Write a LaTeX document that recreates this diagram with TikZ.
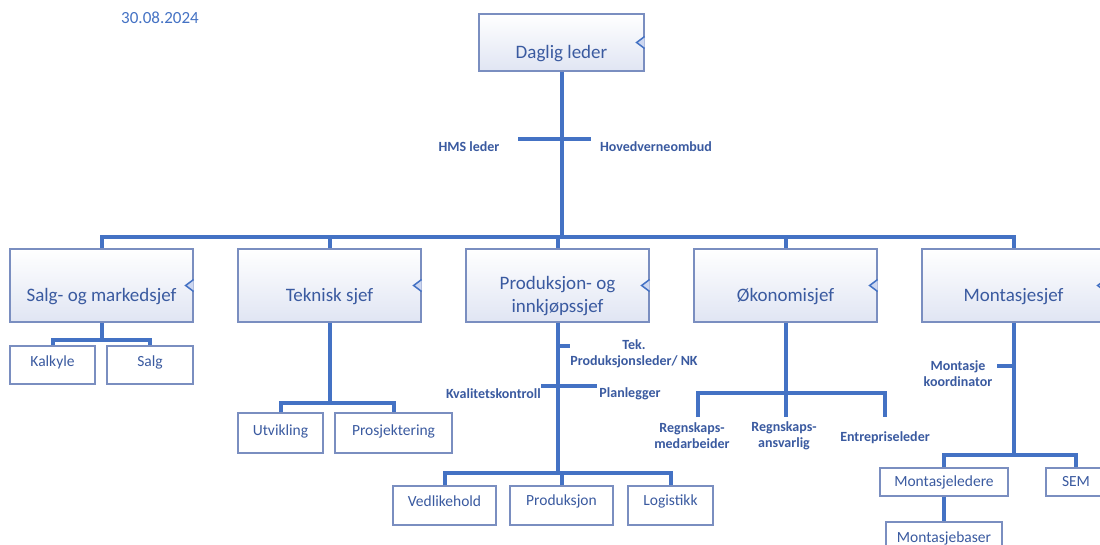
\documentclass[tikz,border=0pt]{standalone}
\usepackage{fontspec}
\setmainfont{Carlito}
\definecolor{lineblue}{RGB}{68,114,196}
\definecolor{textblue}{RGB}{58,90,160}
\definecolor{boxborder}{RGB}{122,142,192}
\definecolor{boxfill}{RGB}{224,229,243}
\definecolor{markfill}{RGB}{205,215,240}
\tikzset{
  conn/.style={draw=lineblue, line width=4pt, line join=miter},
  bigbox/.style={draw=boxborder, line width=1.2pt, top color=white, bottom color=boxfill, minimum width=183pt, minimum height=73pt, inner sep=0pt},
  smallbox/.style={draw=boxborder, line width=1.2pt, fill=white, inner sep=0pt},
  boxtext/.style={text=textblue, font=\fontsize{19}{23}\selectfont, align=center},
  lbl/.style={text=textblue, font=\bfseries\fontsize{14}{16}\selectfont, align=center, inner sep=0pt},
  subtext/.style={text=textblue, font=\fontsize{15.5}{18}\selectfont},
  marker/.style={draw=lineblue, fill=markfill, line width=1.5pt, line join=miter}
}
\newcommand{\boxmarker}[1]{\filldraw[marker] ([yshift=6pt]#1.east) -- ++(-8pt,-6pt) -- ++(8pt,-6pt);}
\begin{document}
\begin{tikzpicture}[x=1pt,y=-1pt]
\clip (0,0) rectangle (1100,545);
\fill[white] (0,0) rectangle (1100,545);

% date
\node[text=lineblue, font=\fontsize{17}{20}\selectfont] (date) at (160,18) {30.08.2024};

% top box
\node[bigbox, minimum width=165pt, minimum height=57pt, label={[boxtext, yshift=-11pt]center:Daglig leder}] (dl) at (561.5,42.5) {};
\boxmarker{dl}

% second level boxes
\node[bigbox, label={[boxtext, yshift=-11pt]center:Salg- og markedsjef}] (salgsjef) at (101.5,285.5) {};
\node[bigbox, label={[boxtext, yshift=-11pt]center:Teknisk sjef}] (tek) at (329.5,285.5) {};
\node[bigbox, label={[boxtext, yshift=-11pt]center:Produksjon- og\\innkjøpssjef}] (prod) at (557.5,285.5) {};
\node[bigbox, label={[boxtext, yshift=-11pt]center:Økonomisjef}] (oko) at (785.5,285.5) {};
\node[bigbox, label={[boxtext, yshift=-11pt]center:Montasjesjef}] (mont) at (1013.5,285.5) {};
\foreach \b in {salgsjef,tek,prod,oko,mont}{\boxmarker{\b}}

% main connectors
\coordinate (busy) at (0,237);
\draw[conn] (dl.south) -- (dl.south |- busy);
\draw[conn] (salgsjef.north) -- (salgsjef.north |- busy) -- (mont.north |- busy) -- (mont.north);
\foreach \b in {tek,prod,oko}{\draw[conn] (\b.north |- busy) -- (\b.north);}

% HMS cross
\coordinate (hmsa) at (518,139);
\coordinate (hmsb) at (591,139);
\draw[conn] (hmsa) -- (hmsb);
\node[lbl] (hms) at (469,147) {HMS leder};
\node[lbl] (hvo) at (656,147) {Hovedverneombud};

% Salg sub
\node[smallbox, minimum width=85pt, minimum height=38pt, label={[subtext, yshift=3pt]center:Kalkyle}] (kalk) at (52.5,365) {};
\node[smallbox, minimum width=86pt, minimum height=38pt, label={[subtext, yshift=3pt]center:Salg}] (salg) at (150,365) {};
\coordinate (sby) at (0,340);
\draw[conn] (salgsjef.south) -- (salgsjef.south |- sby);
\draw[conn] (kalk.north) -- (kalk.north |- sby) -- (salg.north |- sby) -- (salg.north);

% Teknisk sub
\node[smallbox, minimum width=85pt, minimum height=40pt, label={[subtext, yshift=2pt]center:Utvikling}] (utv) at (280.5,433) {};
\node[smallbox, minimum width=117pt, minimum height=40pt, label={[subtext, yshift=2pt]center:Prosjektering}] (pros) at (393.5,433) {};
\coordinate (tby) at (0,403);
\draw[conn] (tek.south) -- (tek.south |- tby);
\draw[conn] (utv.north) -- (utv.north |- tby) -- (pros.north |- tby) -- (pros.north);

% Produksjon sub
\node[smallbox, minimum width=103pt, minimum height=39pt, label={[subtext, yshift=4pt]center:Vedlikehold}] (ved) at (444.5,505.5) {};
\node[smallbox, minimum width=103pt, minimum height=39pt, label={[subtext, yshift=4pt]center:Produksjon}] (prd) at (561.5,505.5) {};
\node[smallbox, minimum width=85pt, minimum height=39pt, label={[subtext, yshift=4pt]center:Logistikk}] (log) at (670.5,505.5) {};
\coordinate (pby) at (0,473);
\draw[conn] (prod.south) -- (prod.south |- pby);
\draw[conn] (ved.north) -- (ved.north |- pby) -- (log.north |- pby) -- (log.north);
\draw[conn] (prd.north |- pby) -- (prd.north);
\coordinate (tekA) at (557.5,346);
\coordinate (tekB) at (570,346);
\draw[conn] (tekA) -- (tekB);
\node[lbl] (tekl) at (634,354) {Tek.\\Produksjonsleder/ NK};
\coordinate (kvA) at (541,386);
\coordinate (kvB) at (597,386);
\draw[conn] (kvA) -- (kvB);
\node[lbl, anchor=east] (kv) at (541,394) {Kvalitetskontroll};
\node[lbl] (plan) at (630,394) {Planlegger};

% Okonomi sub
\coordinate (oby) at (0,393);
\coordinate (okL) at (698,417);
\coordinate (okM) at (785.5,417);
\coordinate (okR) at (885,417);
\draw[conn] (oko.south) -- (okM);
\draw[conn] (okL) -- (okL |- oby) -- (okR |- oby) -- (okR);
\node[lbl] (rm) at (692,436) {Regnskaps-\\medarbeider};
\node[lbl] (ra) at (784,436) {Regnskaps-\\ansvarlig};
\node[lbl] (ent) at (885,438) {Entrepriseleder};

% Montasje sub
\node[smallbox, minimum width=128pt, minimum height=28pt, label={[subtext]center:Montasjeledere}] (ml) at (944,482) {};
\node[smallbox, minimum width=60pt, minimum height=28pt, label={[subtext]center:SEM}] (sem) at (1076,482) {};
\node[smallbox, minimum width=116pt, minimum height=30pt, label={[subtext, yshift=-1pt]center:Montasjebaser}] (mb) at (944,537) {};
\coordinate (mby) at (0,455);
\draw[conn] (mont.south) -- (mont.south |- mby);
\draw[conn] (ml.north) -- (ml.north |- mby) -- (sem.north |- mby) -- (sem.north);
\draw[conn] (ml.south) -- (mb.north);
\coordinate (mkA) at (997,366);
\coordinate (mkB) at (1013.5,366);
\draw[conn] (mkA) -- (mkB);
\node[lbl] (mk) at (958,374) {Montasje\\koordinator};
\end{tikzpicture}
\end{document}
